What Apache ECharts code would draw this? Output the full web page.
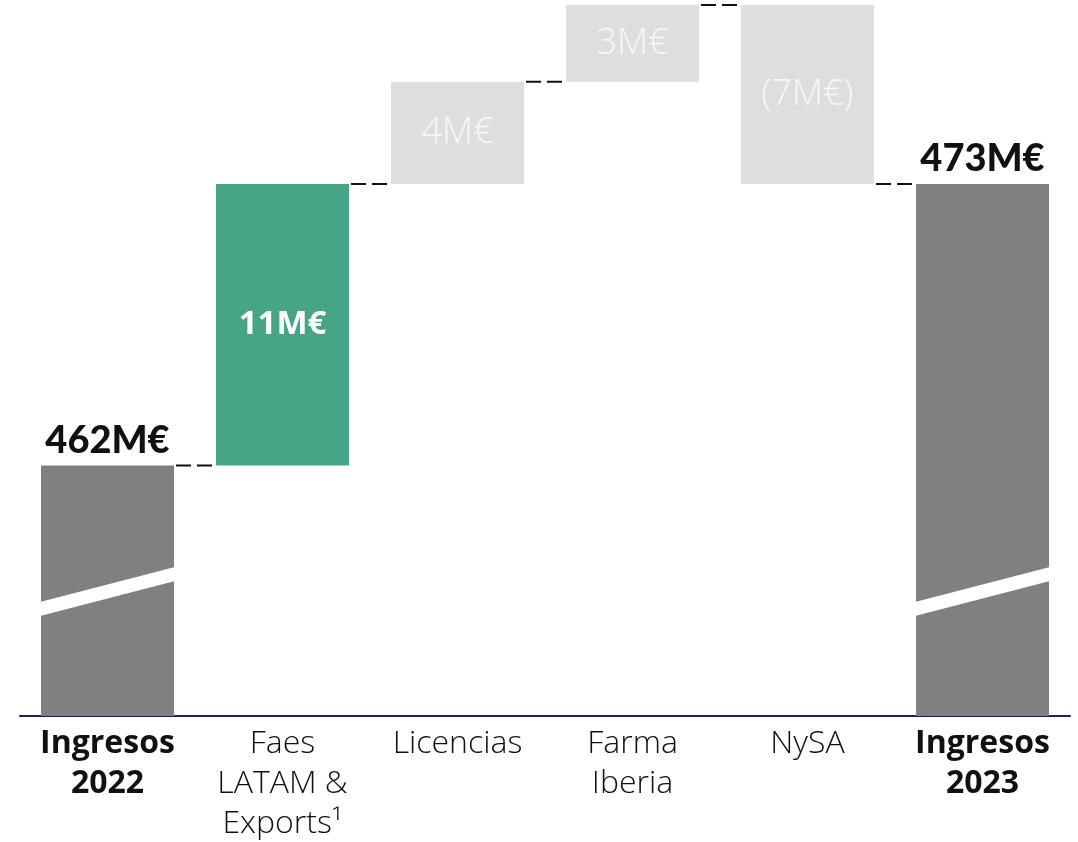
<!DOCTYPE html>
<html>
<head>
<meta charset="utf-8">
<script src="https://cdn.jsdelivr.net/npm/echarts@6/dist/echarts.min.js"></script>
<style>
  html, body { margin: 0; padding: 0; background: #fff; }
  #main { width: 1078px; height: 842px; }
</style>
</head>
<body>
<div id="main"></div>
<script>
// datos del gráfico
var categories = ['Ingresos\n2022', 'Faes\nLATAM &\nExports¹', 'Licencias', 'Farma\nIberia', 'NySA', 'Ingresos\n2023'];
var startTotal = 462;
var changes = [11, 4, 3, -7];   // Faes LATAM, Licencias, Farma Iberia, NySA
var endTotal = 473;
var valueLabels = ['462M€', '11M€', '4M€', '3M€', '(7M€)', '473M€'];

var DARK = '#808080', GREEN = '#45a586', LIGHT = '#dedede';
var BAR_W = 0.76;

// base invisible + tramo visible
var baseData = [0];
var visData = [{ value: startTotal, itemStyle: { color: DARK } }];
var levels = [startTotal];
var run = startTotal;
changes.forEach(function (c, i) {
  var next = run + c;
  baseData.push(Math.min(run, next));
  visData.push({ value: Math.abs(c), itemStyle: { color: i === 0 ? GREEN : LIGHT } });
  run = next;
  levels.push(run);
});
baseData.push(0);
visData.push({ value: endTotal, itemStyle: { color: DARK } });

// totales con etiqueta arriba
visData[0].label = { position: 'top', distance: 6 };
visData[5].label = { position: 'top', distance: 6 };

var chart = echarts.init(document.getElementById('main'));

var option = {
  animation: false,
  grid: { left: 20, right: 8, top: 0, bottom: 126 },
  xAxis: {
    type: 'category',
    data: categories,
    axisTick: { show: false },
    axisLine: { lineStyle: { color: '#1f1f5c', width: 2 } },
    axisLabel: {
      margin: 8,
      interval: 0,
      formatter: function (v, i) {
        var tag = (i === 0 || i === 5) ? 'b' : 'n';
        return v.split('\n').map(function (s) { return '{' + tag + '|' + s + '}'; }).join('\n');
      },
      rich: {
        b: { fontFamily: 'Open Sans', fontWeight: 'bold', fontSize: 32, lineHeight: 40, color: '#111' },
        n: { fontFamily: 'Open Sans', fontWeight: 300, fontSize: 32, lineHeight: 40, color: '#111' }
      }
    }
  },
  yAxis: {
    type: 'value',
    min: 452.2,
    max: 480.2,
    show: false,
    splitLine: { show: false }
  },
  series: [
    {
      type: 'bar',
      stack: 'w',
      barWidth: BAR_W * 100 + '%',
      itemStyle: { color: 'transparent' },
      silent: true,
      data: baseData
    },
    {
      type: 'bar',
      stack: 'w',
      barWidth: BAR_W * 100 + '%',
      data: visData,
      label: {
        show: true,
        position: 'inside',
        formatter: function (p) {
          var i = p.dataIndex;
          if (i === 0 || i === 5) return '{t|' + valueLabels[i] + '}';
          if (i === 1) return '{g|' + valueLabels[i] + '}';
          return '{l|' + valueLabels[i] + '}';
        },
        rich: {
          t: { fontFamily: 'Lato', fontWeight: 900, fontSize: 38, color: '#111' },
          g: { fontFamily: 'Open Sans', fontWeight: 'bold', fontSize: 33, color: '#fff' },
          l: { fontFamily: 'Open Sans', fontWeight: 300, fontSize: 36, color: '#f7f7f7' }
        }
      }
    },
    {
      // conectores discontinuos
      type: 'custom',
      z: 3,
      silent: true,
      data: levels.map(function (v, i) { return [i, v]; }),
      renderItem: function (params, api) {
        var i = api.value(0);
        var p0 = api.coord([i, api.value(1)]);
        var p1 = api.coord([i + 1, api.value(1)]);
        var half = api.size([1, 0])[0] * BAR_W / 2;
        return {
          type: 'line',
          shape: { x1: p0[0] + half + 2, y1: p0[1], x2: p1[0] - half - 3, y2: p1[1] },
          style: { stroke: '#111', lineWidth: 2, lineDash: [15, 6] }
        };
      }
    },
    {
      // marca de eje cortado
      type: 'custom',
      z: 4,
      silent: true,
      data: [[0], [5]],
      renderItem: function (params, api) {
        var i = api.value(0);
        var base = api.coord([i, 452.2]);
        var half = api.size([1, 0])[0] * BAR_W / 2;
        var x0 = base[0] - half - 1, x1 = base[0] + half + 1, y = base[1];
        return {
          type: 'polygon',
          shape: { points: [[x0, y - 114], [x1, y - 149], [x1, y - 135], [x0, y - 100]] },
          style: { fill: '#fff' }
        };
      }
    }
  ]
};

chart.setOption(option);
</script>
</body>
</html>
